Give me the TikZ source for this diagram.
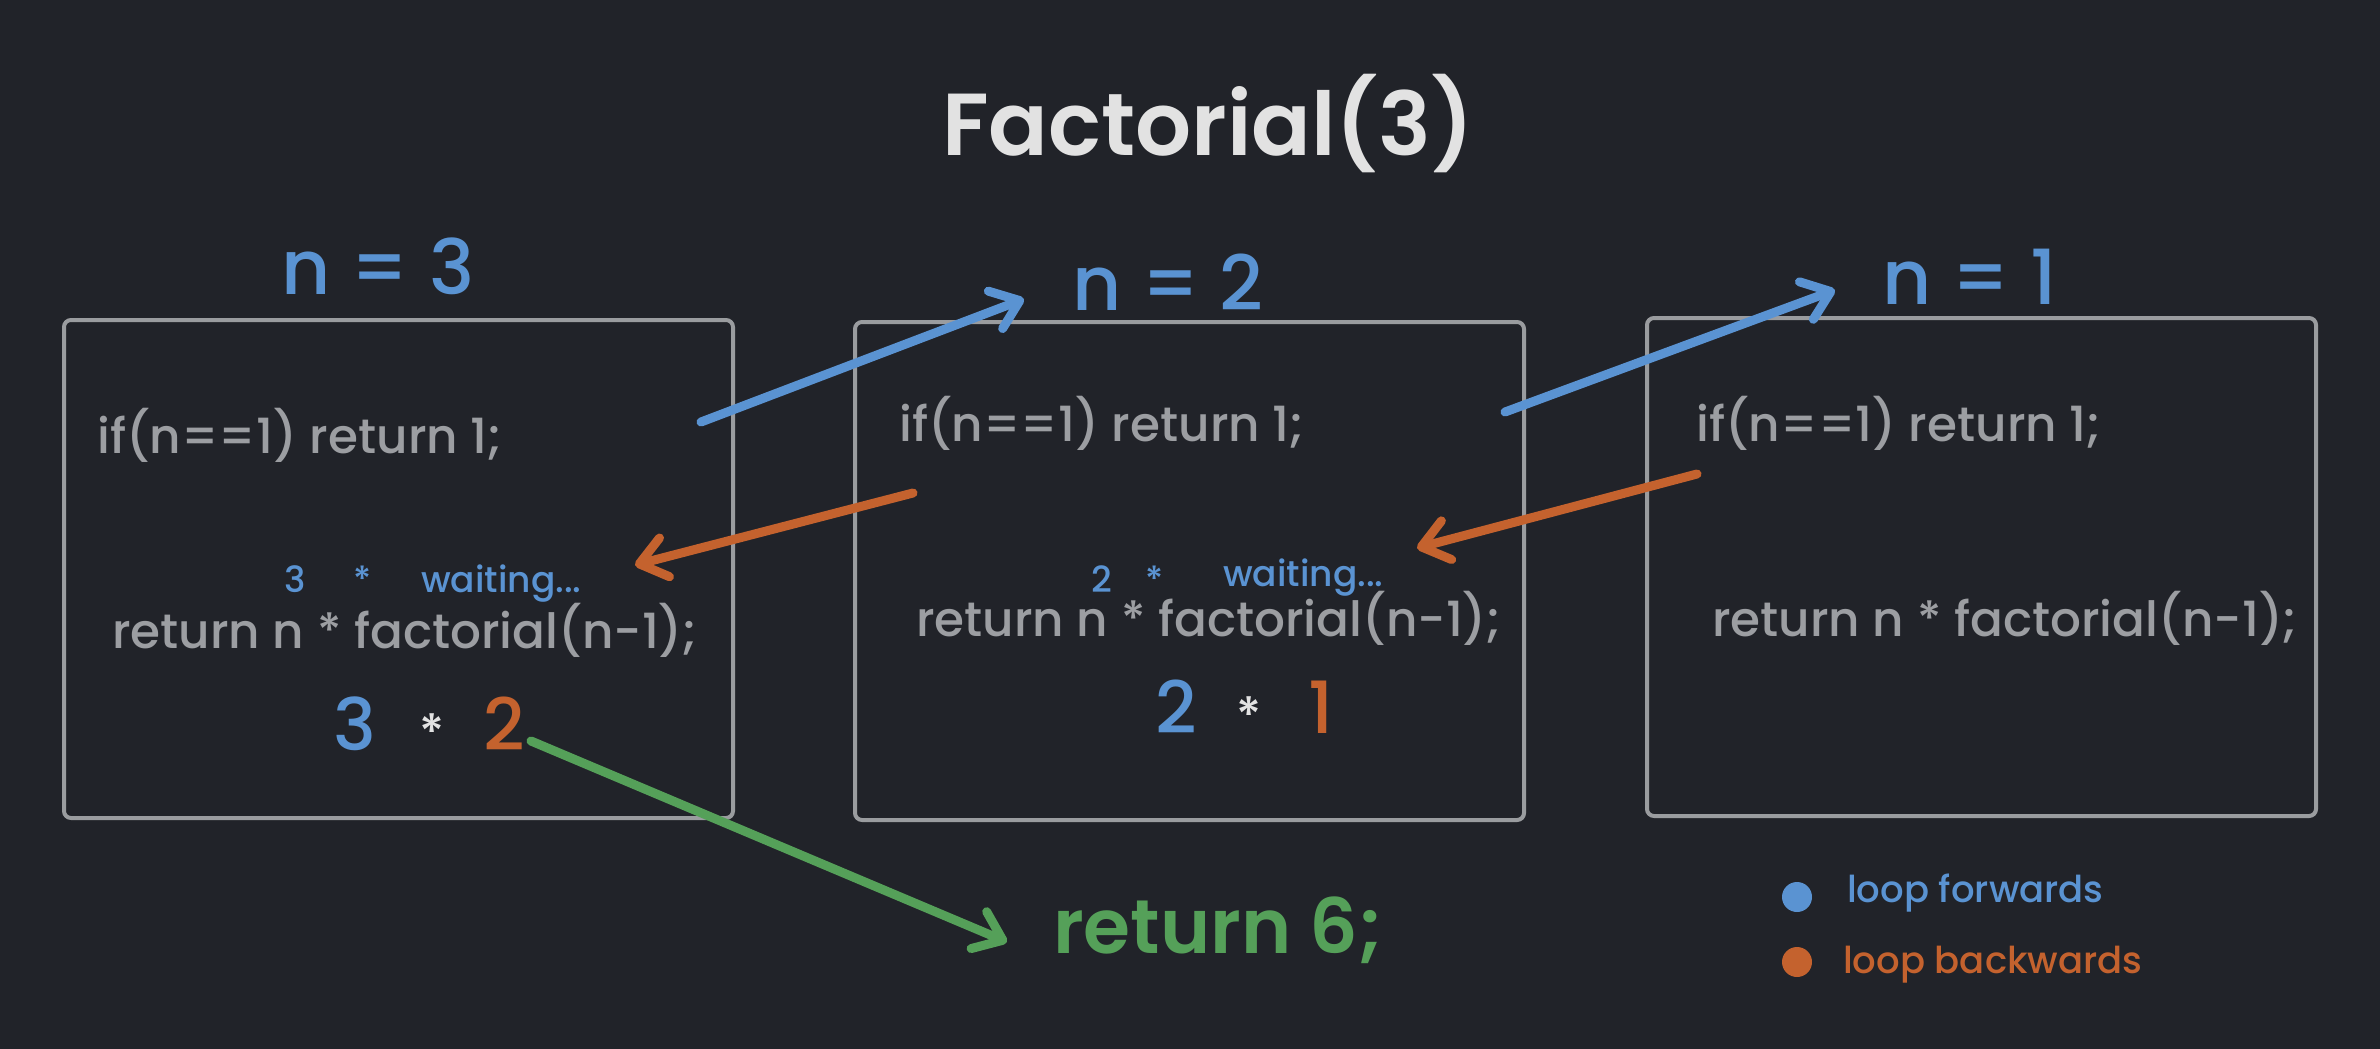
\documentclass[tikz,border=0pt]{standalone}
\usepackage{fontspec}
\setmainfont{Poppins}[BoldFont={Poppins SemiBold}]
\newfontfamily\medfont{Poppins Medium}
\usetikzlibrary{arrows.meta,positioning,calc}

\definecolor{bgdark}{HTML}{212329}
\definecolor{fwdblue}{HTML}{5A93D2}
\definecolor{backorange}{HTML}{C4622E}
\definecolor{retgreen}{HTML}{55A059}
\definecolor{codegrey}{HTML}{9C9EA2}
\definecolor{framegrey}{HTML}{9A9C9F}
\definecolor{titlewhite}{HTML}{E2E2E2}

\begin{document}
\begin{tikzpicture}[x=1pt, y=-1pt,
  callbox/.style={draw=framegrey, line width=4pt, rounded corners=7pt, minimum width=669pt, minimum height=498pt, inner sep=0pt},
  code/.style={text=codegrey, font=\medfont\fontsize{48.5}{60}\selectfont, anchor=base west, inner sep=0pt},
  nval/.style={text=fwdblue, font=\medfont\fontsize{76}{80}\selectfont, inner sep=0pt},
  pend/.style={text=fwdblue, font=\medfont\fontsize{36}{40}\selectfont, anchor=base, inner sep=0pt},
  prod/.style={font=\medfont\fontsize{72}{80}\selectfont, anchor=base, inner sep=0pt},
  star/.style={text=titlewhite, font=\medfont\fontsize{50}{60}\selectfont, anchor=base, inner sep=0pt},
  legtext/.style={font=\medfont\fontsize{37}{40}\selectfont, anchor=base west, inner sep=0pt},
  legdot/.style={circle, inner sep=0pt, minimum size=30pt},
  fwd/.style={draw=fwdblue, line width=9pt, line cap=round, -{Straight Barb[length=26pt, width=40pt, round]}},
  bwd/.style={draw=backorange, line width=9pt, line cap=round, -{Straight Barb[length=26pt, width=40pt, round]}},
  res/.style={draw=retgreen, line width=9pt, line cap=round, -{Straight Barb[length=26pt, width=40pt, round]}}
]

\fill[bgdark] (0,0) rectangle (2380,1049);
\useasboundingbox (0,0) rectangle (2380,1049);

\node[text=titlewhite, font=\bfseries\fontsize{88}{100}\selectfont, anchor=base, inner sep=0pt] (title) at (1208,155) {Factorial(3)};

% the three calls
\node[callbox] (box3) at (398.5,569) {};
\node[callbox] (box2) at (1189.5,571) {};
\node[callbox] (box1) at (1981.5,567) {};

\node[nval] (lbl3) at (378,266) {n = 3};
\node[nval] (lbl2) at (1168,282) {n = 2};
\node[nval] (lbl1) at (1970,277) {n = 1};

% n = 3
\node[code] (if3) at (97,453) {if(n==1) return 1;};
\node[code] (rec3) at (112,648) {return n * factorial(n-1);};
\node[pend] (pn3) at (295,592) {3};
\node[pend] (ps3) at (363,592) {*};
\node[pend, anchor=base west] (pw3) at (421,592) {waiting...};
\node[prod, text=fwdblue] (pa3) at (355,750) {3};
\node[star] (pb3) at (432,750) {*};
\node[prod, text=backorange] (pc3) at (504,750) {2};

% n = 2
\node[code] (if2) at (899,441) {if(n==1) return 1;};
\node[code] (rec2) at (916,636) {return n * factorial(n-1);};
\node[pend] (pn2) at (1102,592) {2};
\node[pend] (ps2) at (1155,592) {*};
\node[pend, anchor=base west] (pw2) at (1223,586) {waiting...};
\node[prod, text=fwdblue] (pa2) at (1176,733) {2};
\node[star] (pb2) at (1249,733) {*};
\node[prod, text=backorange] (pc2) at (1321,733) {1};

% n = 1
\node[code] (if1) at (1696,441) {if(n==1) return 1;};
\node[code] (rec1) at (1712,636) {return n * factorial(n-1);};

\node[text=retgreen, font=\bfseries\fontsize{76}{80}\selectfont, anchor=base west, inner sep=0pt] (ret) at (1053,953) {return 6;};

% arrows
\coordinate (f3) at (701,422);
\coordinate (f2in) at (1024,299);
\coordinate (f2) at (1505,412);
\coordinate (f1in) at (1835,290);
\coordinate (b2) at (913,493);
\coordinate (b3in) at (635,565);
\coordinate (b1) at (1697,474);
\coordinate (b2in) at (1417,548);
\coordinate (r3) at (531,741);
\coordinate (retin) at (1007,942);

\draw[fwd] (f3) -- (f2in);
\draw[fwd] (f2) -- (f1in);
\draw[bwd] (b2) -- (b3in);
\draw[bwd] (b1) -- (b2in);
\draw[res] (r3) -- (retin);

% legend
\node[legdot, fill=fwdblue] (dfwd) at (1797,897) {};
\node[legtext, text=fwdblue] (tfwd) at (1847,902) {loop forwards};
\node[legdot, fill=backorange] (dbwd) at (1797,962) {};
\node[legtext, text=backorange] (tbwd) at (1843,973) {loop backwards};

\end{tikzpicture}
\end{document}
